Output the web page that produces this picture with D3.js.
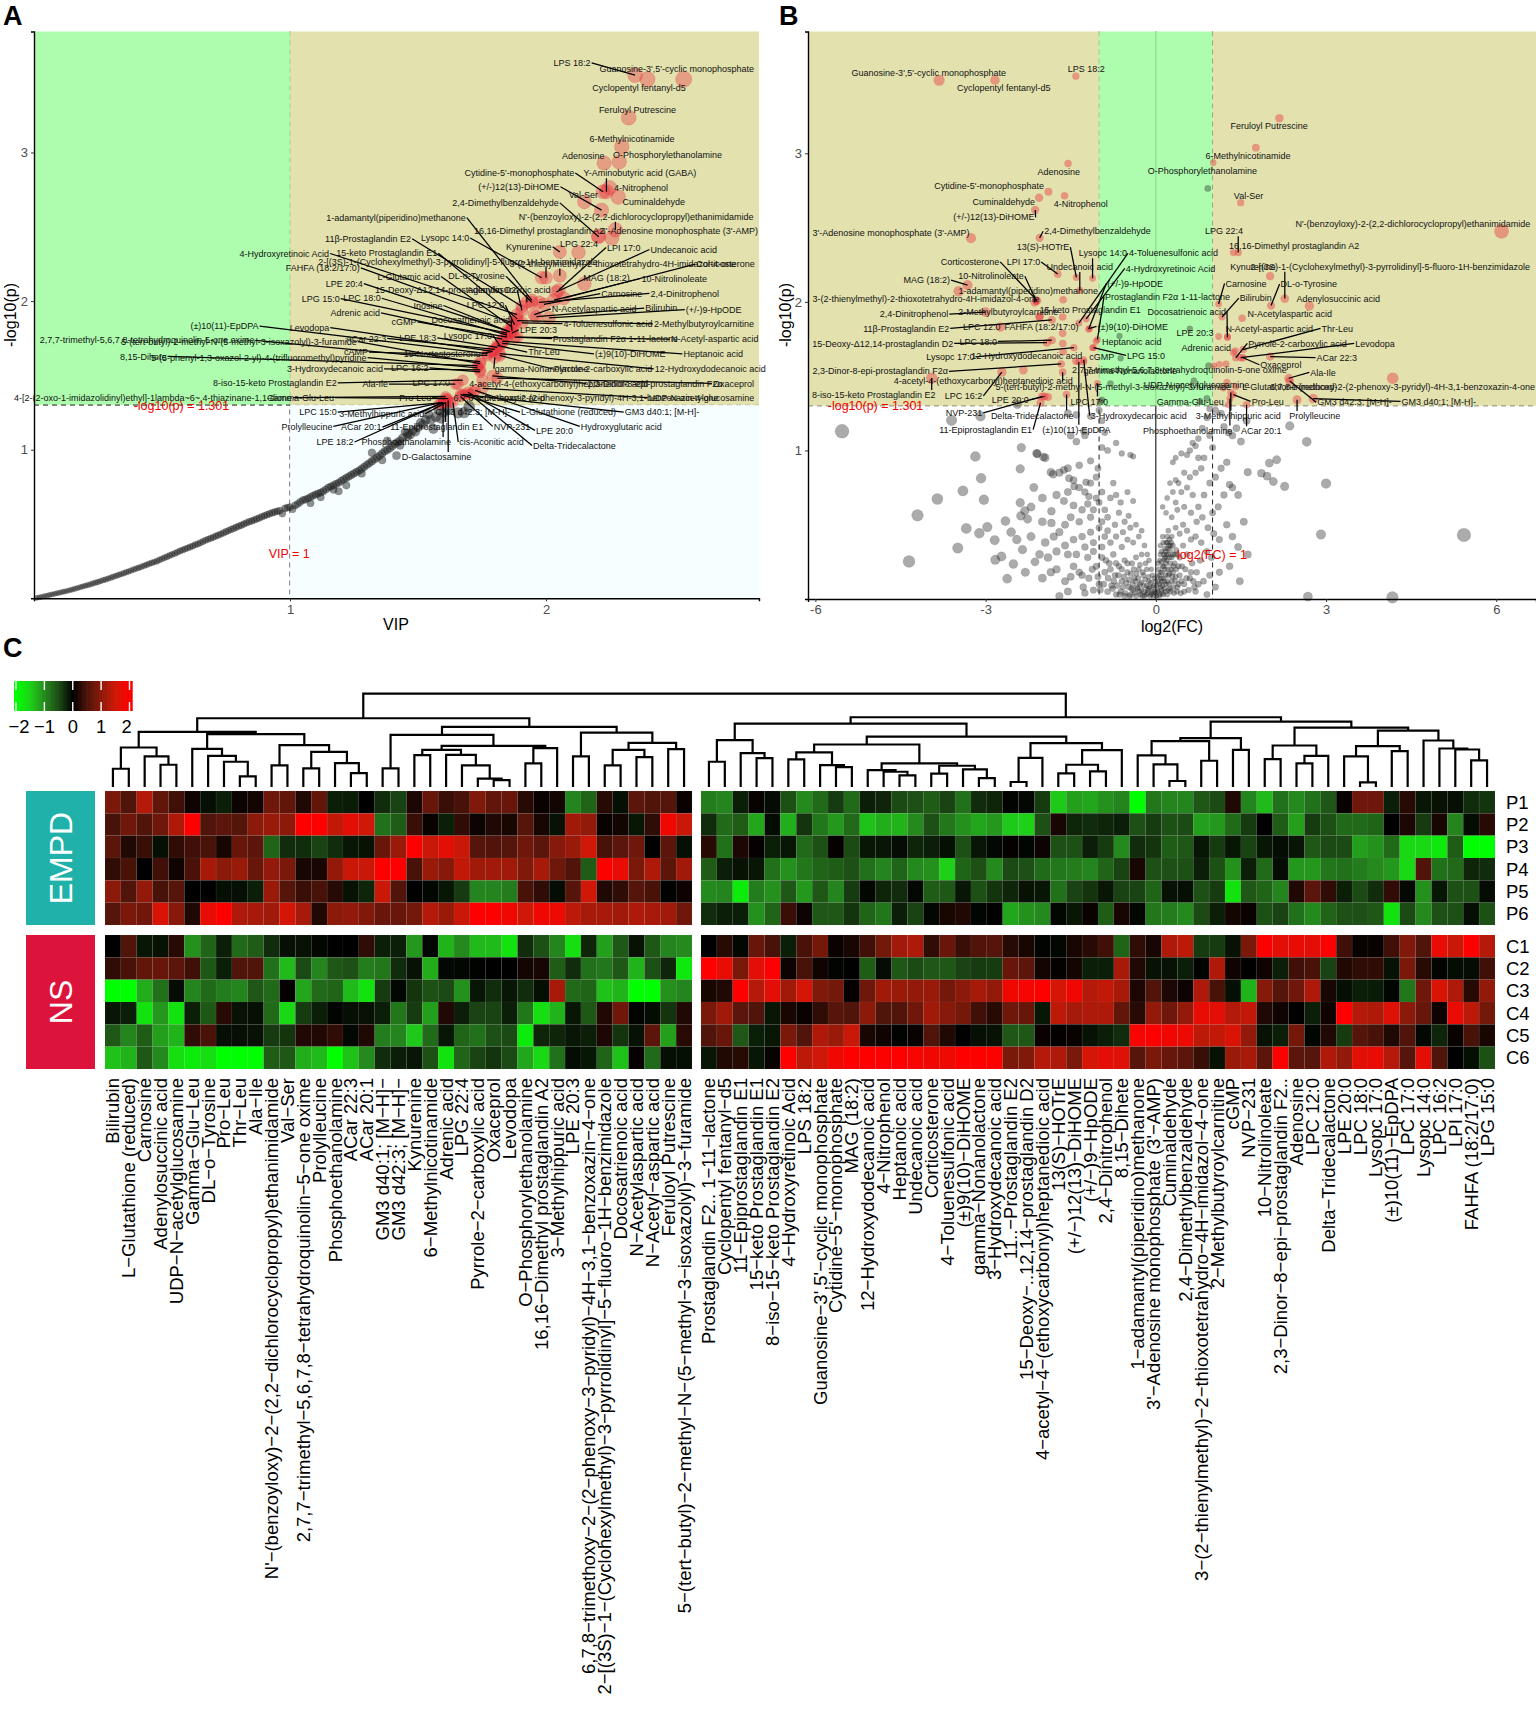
<!DOCTYPE html>
<html><head><meta charset="utf-8">
<script src="https://cdn.jsdelivr.net/npm/d3@7"></script>
<style>
html,body{margin:0;padding:0;background:#fff}
svg{display:block}
text{font-family:"Liberation Sans",Arial,Helvetica,sans-serif}
</style></head><body><svg id="c" width="1536" height="1730"></svg>
<script>
// Panel A labelled metabolites: name, VIP, -log10(p), label VIP, label -log10(p)
const labelledA = [
["LPS 18:2",2.348,3.521,2.102,3.603],["Guanosine-3',5'-cyclic monophosphate",2.538,3.493,2.511,3.562],["Cyclopentyl fentanyl-d5",2.396,3.493,2.363,3.438],
["Feruloyl Putrescine",2.323,3.234,2.357,3.284],["6-Methylnicotinamide",2.296,3.039,2.336,3.094],["Adenosine",2.227,2.928,2.146,2.975],
["O-Phosphorylethanolamine",2.286,2.937,2.475,2.983],["Cytidine-5'-monophosphate",2.223,2.736,1.896,2.862],["Y-Aminobutyric acid (GABA)",2.236,2.736,2.367,2.860],
["4-Nitrophenol",2.248,2.763,2.371,2.763],["(+/-)12(13)-DiHOME",2.217,2.612,1.894,2.769],["Val-Ser",2.150,2.667,2.146,2.716],["Cuminaldehyde",2.282,2.700,2.421,2.667],
["2,4-Dimethylbenzaldehyde",2.206,2.433,1.842,2.661],["N'-(benzoyloxy)-2-(2,2-dichlorocyclopropyl)ethanimidamide",2.271,2.479,2.352,2.567],
["3'-Adenosine monophosphate (3'-AMP)",2.257,2.424,2.521,2.471],["16,16-Dimethyl prostaglandin A2",2.204,2.438,1.973,2.474],["1-adamantyl(piperidino)methanone",1.944,2.006,1.414,2.562],
["11β-Prostaglandin E2",1.906,1.964,1.305,2.419],["Lysopc 14:0",1.983,2.157,1.606,2.424],["Kynurenine",2.054,2.331,1.933,2.366],["LPG 22:4",2.127,2.328,2.129,2.383],
["LPI 17:0",2.050,2.074,2.304,2.361],["Undecanoic acid",2.040,2.061,2.538,2.347],["4-Hydroxyretinoic Acid",1.887,1.909,0.978,2.320],["15-keto Prostaglandin E1",1.887,1.882,1.378,2.322],
["2-[(3S)-1-(Cyclohexylmethyl)-3-pyrrolidinyl]-5-fluoro-1H-benzimidazole",2.000,2.157,1.656,2.267],["3-(2-thienylmethyl)-2-thioxotetrahydro-4H-imidazol-4-one",2.054,2.171,2.300,2.253],
["Corticosterone",2.069,2.019,2.701,2.248],["FAHFA (18:2/17:0)",1.867,1.854,1.128,2.223],["L-Glutamic acid",1.867,1.826,1.464,2.165],["DL-o-Tyrosine",1.944,1.992,1.729,2.168],
["MAG (18:2)",2.150,2.116,2.236,2.154],["10-Nitrolinoleate",2.031,2.006,2.501,2.152],["LPE 20:4",1.848,1.799,1.212,2.118],["15-Deoxy-Δ12,14-prostaglandin D2",1.906,1.937,1.608,2.074],
["Adenylosuccinic acid",1.925,1.992,1.854,2.074],["Carnosine",1.992,1.978,2.296,2.050],["2,4-Dinitrophenol",1.973,1.992,2.542,2.052],["LPG 15:0",1.848,1.785,1.120,2.017],
["LPC 18:0",1.848,1.771,1.281,2.019],["Inosine",1.858,1.793,1.539,1.970],["LPC 12:0",1.877,1.840,1.764,1.972],["N-Acetylaspartic acid",1.954,1.909,2.188,1.948],["Bilirubin",1.963,1.895,2.450,1.953],
["(+/-)9-HpODE",2.012,1.887,2.655,1.942],["Adrenic acid",1.829,1.744,1.255,1.920],["cGMP",1.848,1.758,1.445,1.860],["Docosatrienoic acid",1.867,1.799,1.706,1.876],
["(±)10(11)-EpDPA",1.771,1.647,0.744,1.832],["Levodopa",1.791,1.661,1.076,1.821],["LPE 20:3",1.867,1.785,1.971,1.807],["4-Toluenesulfonic acid",1.906,1.854,2.242,1.848],
["2-Methylbutyroylcarnitine",1.887,1.868,2.617,1.846],["ACar 22:3",1.800,1.675,1.297,1.749],["LPE 18:3",1.810,1.689,1.499,1.752],["Lysopc 17:0",1.819,1.702,1.695,1.769],
["Prostaglandin F2α 1-11-lactone",1.877,1.758,2.271,1.747],["N-Acetyl-aspartic acid",1.887,1.758,2.659,1.744],["2,7,7-trimethyl-5,6,7,8-tetrahydroquinolin-5-one oxime",1.743,1.592,0.442,1.736],
["5-(tert-butyl)-2-methyl-N-(5-methyl-3-isoxazolyl)-3-furamide",1.743,1.579,0.801,1.727],["cAMP",1.771,1.634,1.258,1.656],["19-Nortestosterone",1.791,1.661,1.595,1.647],
["Thr-Leu",1.810,1.702,1.992,1.656],["(±)9(10)-DiHOME",1.829,1.716,2.329,1.645],["Heptanoic acid",1.829,1.730,2.653,1.645],["8,15-Dihete",1.733,1.565,0.427,1.628],
["5-(5-phenyl-1,3-oxazol-2-yl)-4-(trifluoromethyl)pyridine",1.733,1.551,0.878,1.620],["3-Hydroxydecanoic acid",1.743,1.537,1.176,1.543],["LPC 16:2",1.743,1.523,1.468,1.551],
["gamma-Nonanolactone",1.800,1.620,1.983,1.545],["Pyrrole-2-carboxylic acid",1.819,1.634,2.223,1.543],["12-Hydroxydodecanoic acid",1.819,1.647,2.642,1.543],
["8-iso-15-keto Prostaglandin E2",1.675,1.468,0.941,1.449],["Ala-Ile",1.646,1.441,1.333,1.441],["LPC 17:0",1.656,1.441,1.552,1.449],["4-acetyl-4-(ethoxycarbonyl)heptanedioic acid",1.752,1.468,2.050,1.446],
["2,3-Dinor-8-epi-prostaglandin F2α",1.791,1.496,2.425,1.446],["Oxaceprol",1.810,1.482,2.732,1.446],["4-[2-(2-oxo-1-imidazolidinyl)ethyl]-1lambda~6~,4-thiazinane-1,1-dione",1.608,1.358,0.465,1.350],
["Gamma-Glu-Leu",1.608,1.344,1.041,1.350],["Pro-Leu",1.618,1.344,1.489,1.350],["D-Aspartic acid",1.685,1.372,1.877,1.350],["6,7,8-trimethoxy-2-(2-phenoxy-3-pyridyl)-4H-3,1-benzoxazin-4-one",1.714,1.386,2.156,1.350],
["UDP-N-acetylglucosamine",1.752,1.413,2.607,1.350],["LPC 15:0",1.598,1.317,1.109,1.253],["3-Methylhippuric acid",1.608,1.317,1.358,1.242],["GM3 d42:3; [M-H]-",1.627,1.317,1.714,1.253],
["L-Glutathione (reduced)",1.666,1.372,2.088,1.253],["GM3 d40:1; [M-H]-",1.675,1.372,2.453,1.253],["Prolylleucine",1.589,1.317,1.066,1.157],["ACar 20:1",1.598,1.317,1.278,1.152],
["11-Epiprostaglandin E1",1.608,1.317,1.573,1.152],["NVP-231",1.666,1.358,1.867,1.157],["LPE 20:0",1.695,1.386,2.033,1.130],["Hydroxyglutaric acid",1.723,1.399,2.294,1.157],
["LPE 18:2",1.579,1.303,1.176,1.052],["Phosphoethanolamine",1.598,1.317,1.454,1.052],["cis-Aconitic acid",1.637,1.317,1.787,1.052],["Delta-Tridecalactone",1.704,1.372,2.111,1.028],
["D-Galactosamine",1.618,1.331,1.572,0.950]];

// Panel A non-significant points: VIP, -log10(p)
const greyA = [[.01,.003],[.02,.006],[.03,.01],[.04,.014],[.05,.018],[.06,.022],[.07,.026],[.08,.03],[.09,.034],[.10,.038],[.11,.042],[.12,.046],[.13,.05],[.14,.055],[.15,.06],[.16,.064],[.17,.069],[.18,.074],[.19,.079],[.20,.084],[.21,.089],[.22,.094],[.23,.1],[.24,.105],[.25,.11],[.26,.116],[.27,.122],[.28,.127],[.29,.133],[.30,.139],[.31,.145],[.32,.151],[.33,.157],[.34,.163],[.35,.169],[.36,.175],[.37,.181],[.38,.188],[.39,.194],[.40,.2],[.41,.206],[.42,.213],[.43,.219],[.44,.225],[.45,.232],[.46,.238],[.47,.244],[.48,.25],[.49,.258],[.50,.266],
[.51,.273],[.52,.28],[.53,.288],[.54,.295],[.55,.302],[.56,.31],[.57,.318],[.58,.325],[.59,.332],[.60,.338],[.61,.345],[.62,.352],[.63,.36],[.64,.366],[.65,.374],[.66,.382],[.67,.39],[.68,.397],[.69,.404],[.70,.41],[.71,.418],[.72,.425],[.73,.432],[.74,.44],[.75,.448],[.76,.456],[.77,.463],[.78,.47],[.79,.478],[.80,.485],[.81,.492],[.82,.5],[.83,.508],[.84,.515],[.85,.52],[.86,.527],[.87,.534],[.88,.54],[.89,.548],[.90,.556],[.91,.562],[.92,.569],[.93,.575],[.94,.58],[.95,.585],[.96,.59],[.98,.605],[.99,.61],[1.0,.614],[.97,.57],[1.01,.6],[1.02,.625],[1.03,.635],[1.04,.648],[1.05,.66],[1.06,.665],[1.07,.672],[1.08,.682],[1.09,.69],[1.10,.698],[1.11,.705],[1.12,.712],[1.13,.72],[1.14,.732],[1.15,.745],[1.16,.752],[1.17,.76],[1.18,.77],[1.19,.778],[1.20,.79],[1.21,.8],[1.22,.81],[1.23,.82],[1.24,.83],[1.25,.84],[1.26,.85],[1.27,.86],[1.28,.872],[1.29,.885],[1.30,.898],[1.31,.91],[1.32,.922],[1.33,.935],[1.34,.948],[1.35,.96],[1.36,.975],[1.37,.99],[1.38,1.0],[1.39,1.01],[1.40,1.025],[1.41,1.04],[1.42,1.05],[1.43,1.06],[1.44,1.08],[1.46,1.09],[1.36,.93],[1.28,.84],[1.22,.76],[1.19,.72],[1.17,.73],[1.12,.68],[1.08,.64],[1.416,.96],[1.45,1.12],[1.48,1.13],[1.5,1.15],[1.47,1.1],[1.52,1.17],[1.55,1.2],[1.54,1.24],[1.56,1.14],[1.58,1.27],[1.60,1.25],[1.62,1.27],[1.656,1.248],[1.68,1.25],[1.70,1.29],[1.43,1.03],[1.38,1.06],[1.32,.98],[1.46,1.11],[1.49,1.12],[1.51,1.18],[1.53,1.2],[1.57,1.22],[1.59,1.21]];

// Panel B labelled metabolites: name, log2(FC), -log10(p), label log2(FC), label -log10(p)
const labelledB = [
["Guanosine-3',5'-cyclic monophosphate",-3.82,3.492,-4.00,3.544],["Cyclopentyl fentanyl-d5",-2.835,3.492,-2.68,3.442],["LPS 18:2",-1.409,3.519,-1.227,3.569],["Feruloyl Putrescine",2.178,3.236,1.997,3.184],
["6-Methylnicotinamide",1.763,3.038,1.625,2.986],["O-Phosphorylethanolamine",1.011,2.937,.821,2.885],["Adenosine",-1.547,2.931,-1.711,2.876],["Cytidine-5'-monophosphate",-1.893,2.742,-2.939,2.78],
["4-Nitrophenol",-1.608,2.714,-1.322,2.657],["Cuminaldehyde",-2.057,2.701,-2.679,2.673],["(+/-)12(13)-DiHOME",-2.126,2.618,-2.852,2.569],["Val-Ser",1.495,2.668,1.634,2.717],
["3'-Adenosine monophosphate (3'-AMP)",-3.258,2.429,-4.667,2.464],["2,4-Dimethylbenzaldehyde",-2.048,2.431,-1.029,2.475],["N'-(benzoyloxy)-2-(2,2-dichlorocyclopropyl)ethanimidamide",6.093,2.475,4.529,2.525],
["LPG 22:4",1.452,2.332,1.201,2.475],["16,16-Dimethyl prostaglandin A2",1.366,2.332,2.437,2.379],["13(S)-HOTrE",-1.4,2.165,-1.988,2.368],["Lysopc 14:0",-1.115,2.159,-.933,2.327],
["4-Toluenesulfonic acid",-1.357,1.857,.311,2.327],["Undecanoic acid",-1.34,2.077,-1.34,2.234],["4-Hydroxyretinoic Acid",-1.227,1.885,.259,2.225],["Corticosterone",-2.092,2.008,-3.276,2.269],
["LPI 17:0",-1.729,2.187,-2.334,2.269],["MAG (18:2)",-3.319,2.113,-4.036,2.146],["10-Nitrolinoleate",-2.109,2.008,-2.904,2.173],["1-adamantyl(piperidino)methanone",-2.135,1.995,-2.247,2.077],
["3-(2-thienylmethyl)-2-thioxotetrahydro-4H-imidazol-4-one",-3.475,2.071,-4.053,2.022],["(+/-)9-HpODE",-1.184,1.816,-.363,2.124],["Prostaglandin F2α 1-11-lactone",-1.029,1.747,.207,2.036],
["Kynurenine",2.014,2.173,1.711,2.236],["2-[(3S)-1-(Cyclohexylmethyl)-3-pyrrolidinyl]-5-fluoro-1H-benzimidazole",2.273,2.022,4.131,2.236],["Carnosine",1.106,1.986,1.59,2.124],["DL-o-Tyrosine",2.031,1.975,2.697,2.121],
["Bilirubin",1.167,1.898,1.763,2.025],["Adenylosuccinic acid",2.705,1.973,3.215,2.019],["2,4-Dinitrophenol",-2.999,1.931,-4.261,1.918],["2-Methylbutyroylcarnitine",-2.048,1.898,-2.601,1.931],
["15-keto Prostaglandin E1",-1.642,1.898,-1.158,1.945],["11β-Prostaglandin E2",-1.832,1.879,-4.399,1.821],["LPC 12:0",-2.74,1.83,-3.068,1.832],["FAHFA (18:2/17:0)",-1.642,1.788,-2.014,1.83],
["(±)9(10)-DiHOME",-1.167,1.821,-.406,1.835],["Docosatrienoic acid",1.262,1.761,.544,1.934],["N-Acetylaspartic acid",1.521,1.89,2.36,1.918],["LPE 20:3",1.106,1.767,.691,1.794],
["N-Acetyl-aspartic acid",1.262,1.767,1.997,1.821],["Thr-Leu",1.538,1.679,3.198,1.821],["15-Deoxy-Δ12,14-prostaglandin D2",-1.919,1.725,-4.814,1.72],["LPC 18:0",-1.832,1.742,-3.129,1.734],
["Heptanoic acid",-1.054,1.734,-.424,1.734],["Pyrrole-2-carboxylic acid",1.409,1.624,2.498,1.72],["Levodopa",1.495,1.624,3.863,1.72],["Adrenic acid",1.366,1.659,.89,1.69],["LPG 15:0",-1.098,1.692,-.173,1.64],
["cGMP",-1.115,1.692,-.951,1.632],["Lysopc 17:0",-1.443,1.692,-3.621,1.629],["12-Hydroxydodecanoic acid",-1.634,1.665,-2.273,1.637],["ACar 22:3",2.014,1.632,3.189,1.624],["Oxaceprol",1.538,1.624,2.204,1.577],
["2,7,7-trimethyl-5,6,7,8-tetrahydroquinolin-5-one oxime",1.236,1.582,.415,1.541],["gamma-Nonanolactone",-1.27,1.596,-.449,1.533],["2,3-Dinor-8-epi-prostaglandin F2α",-1.668,1.582,-4.857,1.533],
["Ala-Ile",2.342,1.486,2.947,1.525],["4-acetyl-4-(ethoxycarbonyl)heptanedioic acid",-2.334,1.541,-3.042,1.467],["5-(tert-butyl)-2-methyl-N-(5-methyl-3-isoxazolyl)-3-furamide",-1.642,1.527,-.752,1.431],
["UDP-N-acetylglucosamine",1.253,1.459,.717,1.44],["6,7,8-trimethoxy-2-(2-phenoxy-3-pyridyl)-4H-3,1-benzoxazin-4-one",4.175,1.486,4.347,1.431],["L-Glutathione (reduced)",1.409,1.431,2.36,1.431],
["8-iso-15-keto Prostaglandin E2",-3.95,1.486,-4.97,1.374],["LPC 16:2",-2.714,1.527,-3.388,1.368],["LPE 20:0",-1.962,1.363,-2.567,1.341],["Gamma-Glu-Leu",1.279,1.308,.605,1.33],["Pro-Leu",1.366,1.376,1.971,1.33],
["GM3 d42:3; [M-H]-",2.36,1.467,3.5,1.324],["GM3 d40:1; [M-H]-",2.774,1.349,4.987,1.33],["Prolylleucine",2.489,1.341,2.8,1.231],["LPC 17:0",-1.029,1.451,-1.175,1.33],["NVP-231",-2.005,1.363,-3.379,1.253],
["Delta-Tridecalactone",-1.573,1.376,-2.178,1.236],["3-Hydroxydecanoic acid",-1.27,1.61,-.302,1.234],["3-Methylhippuric acid",1.322,1.39,1.452,1.234],["Phosphoethanolamine",1.305,1.349,.562,1.135],
["ACar 20:1",1.599,1.308,1.858,1.129],["11-Epiprostaglandin E1",-2.031,1.321,-2.999,1.14],["(±)10(11)-EpDPA",-1.357,1.596,-1.4,1.14]];

// Panel B other significant points without a label: log2(FC), -log10(p)
const extraRedB = [[-1.634,2.014],[-2.05,1.9],[-1.64,1.72],[-1.41,1.6],[1.02,1.57],[1.12,1.58],[1.4,1.67],[-1.9,1.36],[1.19,1.42]];

// Panel B non-significant points: log2(FC), -log10(p)
const greyB = [[.916,2.764],[.6,1.82],[-.64,1.77],[-.62,1.62],[.93,1.57],[.67,1.47],[-.8,1.45],[.9,1.35],[-.95,1.34],[-.98,1.33],[.78,1.33],
[-5.53,1.129],[-3.6,1.203],[-3.09,1.23],[-2.44,1.31],[-3.18,.959],[-2.37,1.019],[-3.4,.728],[-3.85,.673],[-4.2,.563],[-3.03,.668],[-3.08,.813],[-2.39,.876],[-4.35,.253],[-3.49,.343],[-3.34,.475],[5.43,.431],[2.91,.434],[3.0,.777],[2.66,1.058],[2.36,1.165],[2.27,.758],[2.07,.791],[2.13,.937],[2.0,.915],[1.96,.827],[1.86,.846],[1.62,.854],[2.68,.016],[4.17,.011],[-2.97,.484],[-3.11,.442],[-2.84,.396],[-2.65,.525],[-2.26,.538],[-1.84,.591],[-1.84,.511],[-2.31,.593],[-2.39,.648],[-2.38,.56],[-2.83,.264],[-2.72,.286],[-2.51,.236],[-2.62,.137],[-2.35,.332],[-2.13,.25],[-2.09,.978],[-1.98,.956],[-1.85,.854],[-1.81,.84],[-1.62,.868],[-1.53,.813],[-1.44,.758],[-1.18,.69],[-1.23,.786],[-1.4,1.06],[-1.27,1.13],
[-1.0,1.27],[-.95,1.2],[-1.15,1.23],[-1.4,1.24],[-1.55,1.25],[-1.25,1.1],[-1.5,1.1],[-.9,1.12],[-.85,1.0],[-.95,1.02],[-.7,1.05],[-.6,.98],[-.45,.97],[-.4,.96],[.3,.92],[.35,.95],[.45,.98],[.55,.97],[.6,1.0],[.65,1.05],[.7,1.03],[.75,1.08],[.82,1.15],[.9,1.22],[.95,1.28],[1.05,1.27],[1.15,1.25],[1.2,1.16],[1.28,1.12],[1.35,1.1],[1.42,1.15],[1.5,1.06],[1.6,1.2],[.95,1.1],[1.0,1.02],[.85,.95],[.8,.88],[.75,.95],[.7,.85],[.6,.82],[.5,.85],[.4,.78],[.35,.8],[.25,.78],[.3,.72],[.2,.68],[.35,.65],[.45,.72],[.55,.75],[.65,.7],[.75,.62],[.85,.7],[.95,.78],[1.05,.82],[1.15,.88],[1.25,.92],[1.3,.77],[1.35,.75],[1.45,.7],[1.2,.7],[1.1,.62],[1.0,.58],
[-1.95,.95],[-2.1,.98],[-1.7,.85],[-1.55,.88],[-1.45,.8],[-1.35,.75],[-1.25,.72],[-1.15,.78],[-1.05,.68],[-1.2,.64],[-1.1,.6],[-1.0,.65],[-.95,.72],[-.9,.6],[-.85,.55],[-.8,.68],[-1.3,.6],[-1.35,.52],[-1.5,.55],[-1.6,.5],[-1.7,.45],[-1.8,.42],[-1.95,.38],[-2.05,.3],[-1.9,.28],[-1.75,.32],[-1.6,.36],[-1.45,.4],[-1.3,.42],[-1.15,.45],[-1.0,.48],[-.9,.42],[-.8,.38],[-.7,.42],[-.6,.35],[-.5,.4],[-.4,.38],[-.3,.42],[-.55,.52],[-.45,.48],[-.25,.3],
[.12,.62],[.18,.58],[.28,.55],[.38,.6],[.5,.62],[.62,.58],[.72,.52],[.82,.55],[.92,.48],[1.02,.44],[1.12,.4],[1.25,.5],[1.35,.42],[1.45,.35],[1.55,.52],[1.62,.3],[1.48,.12],[1.3,.22],[1.12,.18],[.98,.28],[.9,.32],[.8,.38],[.7,.42],[.62,.4],[.55,.46],[.48,.5],[.42,.44],[.35,.48],[.28,.42],[.22,.46],[.18,.38],[.12,.42],[.08,.36],
[-1.6,.12],[-1.85,.18],[-1.45,.22],[-1.3,.16],[-1.55,.05],[-1.7,.02],[-1.2,.28],[-1.1,.32],[-1.05,.22],[-.95,.28],[-.9,.18],[-.82,.24],[-.75,.3],[-.72,.16],[-.65,.22],[-.6,.12],[-.55,.26],[-.5,.18],[-.48,.08],[-.42,.24],[-.38,.14],[-.35,.28],[-.3,.2],[-.28,.1],[-.22,.16],[-.2,.05],[-.18,.24],[-.12,.12],[-.1,.02],[-.08,.2],[-.05,.08],[-.03,.14],[0,.04],[-.85,.05],[-.78,.09],[-.7,.03],[-.62,.05],[-.55,.02],[-.45,.03],[-.4,.06],[-.35,.02],[-.32,.07],[-.27,.03],[-.25,.06],[-.2,.02],[-.16,.09],[-.15,.04],[-.13,.07],[-.08,.03],[-.06,.05],[-.04,.02],[-1.0,.1],[-1.1,.06],[-1.25,.04],
[.03,.06],[.05,.12],[.06,.02],[.08,.18],[.09,.08],[.1,.25],[.11,.04],[.13,.14],[.14,.3],[.15,.07],[.16,.2],[.17,.32],[.18,.1],[.19,.26],[.2,.03],[.21,.34],[.22,.16],[.24,.28],[.25,.07],[.26,.36],[.27,.2],[.28,.12],[.3,.3],[.32,.04],[.33,.24],[.35,.15],[.36,.33],[.38,.08],[.4,.22],[.42,.28],[.45,.12],[.48,.36],[.5,.05],[.52,.2],[.55,.3],[.6,.14],[.64,.24],[.68,.08],[.72,.18],[.78,.26],[.84,.12],[.9,.03],[.95,.16],[1.05,.08],[.22,.06],[.12,.22],[.16,.28],[.2,.38],[.24,.4],[.3,.18],[.08,.3],[.1,.12],[.04,.24],[.06,.16],
[-1.35,.18],[-1.28,.08],[-1.18,.14],[-1.12,.2],[-1.02,.15],[-.98,.06],[-.92,.1],[-.88,.26],[-.84,.14],[-.8,.2],[-.76,.07],[-.74,.12],[-.7,.24],[-.68,.09],[-.66,.16],[-.64,.03],[-.6,.2],[-.58,.08],[-.56,.15],[-.54,.04],[-.52,.11],[-.5,.24],[-.47,.13],[-.46,.02],[-.44,.17],[-.43,.07],[-.41,.1],[-.39,.2],[-.37,.04],[-.36,.12],[-.34,.17],[-.33,.08],[-.31,.14],[-.29,.05],[-.28,.23],[-.26,.11],[-.24,.02],[-.23,.18],[-.21,.09],[-.19,.13],[-.17,.03],[-.16,.2],[-.14,.06],[-.13,.15],[-.11,.08],[-.09,.11],[-.07,.04],[-.06,.16],[-.04,.09],[-.02,.05],[-.01,.12],[.01,.02],[.02,.09],[.03,.15],[.04,.05],[.05,.2],[.06,.1],[.07,.03],[.07,.26],[.09,.14],[.1,.06],[.1,.32],[.11,.18],[.12,.09],[.13,.38],[.13,.03],[.14,.22],[.15,.12],[.15,.27],[.16,.34],[.17,.05],[.17,.16],[.18,.24],[.19,.3],[.2,.12],[.2,.42],[.21,.2],[.22,.3],[.23,.1],[.23,.36],[.24,.17],[.25,.33],[.25,.24],[.26,.05],[.27,.38],[.28,.28],[.29,.15],[.3,.36],[.31,.22],[.31,.08],[.33,.3],[.34,.12],[.36,.2],[.37,.05],[.38,.3],[.4,.1],[.42,.16],[.44,.04],[.46,.22],[.5,.1],[.54,.14],[.58,.06],[.62,.18],[.66,.12],[.7,.05],[.75,.1],
[-1.4,.3],[-1.55,.3],[-1.25,.35],[-1.1,.38],[-.95,.35],[-.85,.46],[-.72,.5],[-.65,.58],[-.58,.45],[-.48,.56],[-.35,.5],[-.25,.46],[-.2,.36],[-.15,.3],[-.12,.26],[-.95,.52],[-1.15,.55],[-1.05,.82],[-1.15,.93],[-1.02,.88],[-.75,.78],[-.7,.7],[-.62,.65],[-.5,.72],[-.4,.66],[-1.62,.66],[-1.45,.63],[-1.75,.7],[-1.55,.72],[-1.35,.9],[-2.0,.68],[-2.15,.75],[-2.2,.62],[-2.0,.52],[-2.2,.42],[-2.45,.4],[-2.55,.45],[-2.3,.18],[-2.0,.14],[-1.75,.2],[-1.5,.15]];

// Heatmap rows, standardised abundance in 87 metabolite columns
const rowP1 = [.85,.5,1.3,.65,.4,.1,-.1,-.2,.08,.12,.75,.65,.2,.65,-.2,-.18,0,-.3,-.45, .18,.7,.35,.45,.9,.65,.7,.25,.06,.12,-.95,-.7,.25,-.1,.6,.5,.55,.06, -.9,-.95,-.2,.05,-.08,-.55,-1,-.75,-.4,-.75,-.2,-.25,-.5,-.55,-.65,-.45,-.8,-.3,-.25,-.03,-.06,-.4,-1.45,-1.15,-1.2, -1.05,-.95,-2,-.85,-.95,-.95,-.6,-.5,.2,-.95,-1.35,-.8,-1,-.8,-.6,.05,.75,.75,-.2,.25,-.15,-.12,-.1,-.3,-.35];
const rowP2 = [.45,.75,.5,.75,1.25,2,.5,.6,.55,1,1.1,1,2,2,1.4,1.7,1.5,-.8,-.65, .35,.05,-.2,.3,.08,.2,.15,.55,.15,-.12,1.15,1.05,.05,.12,-.15,.3,1.85,1.45, -.3,-.75,-.65,-1.2,-.08,-1.25,-.35,-.85,-1.1,-.75,-1.4,-1.25,-1.3,-1,-.55,-.85,-1.05,-1.2,-1.1,-1.45,-1.5,-.55,.15,-.25,-.3, -.25,-.2,-.55,-.4,-.55,-.5,-1.15,-1.1,-.75,-.4,0,-.65,-1.15,-.4,-.55,-.75,-.75,-.7,0,.18,-.4,.15,-.95,-.08,.25];
const rowP3 = [.6,.2,.35,-.1,.3,.4,.45,.15,.7,.6,-.7,-.3,-.3,-.45,-.3,-.15,-.12,.7,1.1, 2,1.45,1.7,1.45,.55,.5,.55,.75,.6,.95,1.1,1.5,.45,.6,.75,0,.6,-.1, .25,-.8,.18,.03,-.2,-.15,-.75,-.55,.03,-.5,-.15,-.15,-.08,-.25,-.2,-.1,-.55,-.15,-.06,.03,-.04,.08,-.55,-.55,-.2, -.4,-1,-.3,-.35,-.65,-.6,-.15,-.4,-.15,-.45,-.15,-.08,-.15,-.6,-.5,-.5,-1.15,-1.05,-.75,-1.6,-1.6,-1.75,-.65,-2,-2];
const rowP4 = [.3,.45,0,.4,.1,.45,1.2,1,1.1,.7,1.05,.85,.15,.15,1.05,1.45,1.45,2,2, .45,1.1,.95,1.4,1.15,1.15,1.15,.9,1.2,.75,.5,-.65,2,1.75,.85,1.25,.6,1.15, -.65,-.2,-.12,-.15,-.8,-1.05,-.85,-.7,-.65,-.55,-.8,-.95,-.7,-1,-1.05,-1.5,-.7,-.55,-1,-.5,-.55,-.75,-.85,-.9,-.95, -.7,-.45,.15,-.55,-.55,-.55,-.2,-.55,-1.05,-.2,-.75,-.08,-1.1,-1.1,-.85,-.8,-.9,-1,-1.1,-1.6,.5,-.8,-.75,-.25,-.3];
const rowP5 = [1,.5,1.05,.45,.55,0,0,-.1,-.1,-.2,1.1,.55,.35,.45,.25,-.12,-.25,1.45,.5, 0,-.05,-.15,-.4,-.95,-.95,-.9,.45,.3,-.08,.55,1.5,.2,.3,.55,.45,-.02,.08, -1,-.95,-1.8,-.9,-1.05,-.6,-1.1,-.6,-.95,-.4,-.05,-.25,-.3,-.06,-.65,-.6,-.15,-.55,-.35,-.25,-.12,-.15,-.8,-.45,-.35, -.15,-.45,-.45,-.7,-.12,-.1,-.55,-.4,-1.7,-.6,-.7,-.95,.2,.6,.3,-.2,-.5,-.3,.3,-.07,-1.05,-.15,-.55,-.55,-.08];
const rowP6 = [.55,.85,.75,1.6,.95,.2,1.75,2,1.25,1.2,1.15,1.55,1.2,.2,1,1.05,.9,.7,.7, .8,1.3,1.1,1.45,2,2,1.85,1.5,1.85,1.8,1.35,1.2,1.2,1.15,1.25,1.2,1.15,.75, -.3,-.2,-.2,-1.05,-.7,.35,.08,-.6,-.6,-.35,-.7,-.85,-.2,-.45,-.05,.15,.2,-.04,0,-1.2,-1.05,-1,-.05,-.15,.06, -.65,.15,-.05,-.85,-.9,-1,-.5,-.2,.12,.06,-.55,-.45,-.8,-1,-.7,-.55,-.55,-.6,-1.7,-.5,-1,-.55,-.55,-.1,-.55];
const rowC1 = [0,.5,-.15,-.12,.25,-1.05,-.7,-.2,-.75,-.65,-.3,-.1,-.12,-.05,0,0,.3,-.2,-.2, -1.1,-.05,-1.3,-1,-1.35,-1.35,-1.7,-.3,-.55,-.95,-1.65,-.25,-1.15,-.6,-.12,-.6,-.95,-1, 0,.25,-.05,.7,.45,-.2,.45,.8,.06,.15,.4,.8,1.15,1.25,.3,.7,.35,.5,.55,.25,.15,-.03,-.05,.15,.25, .4,-.7,.3,.15,1.25,1.35,-.4,-.4,-.12,.85,2,1.7,1.75,1.7,1.95,.4,.05,.06,.4,.9,.5,1.75,1.45,2,1.3];
const rowC2 = [.3,.45,.65,.7,.6,.4,-.6,-.2,.5,.5,-.8,-1.35,-.5,-.95,-.6,-.55,-.9,-.85,-.3, -.12,-1.25,-.05,-.05,-.02,0,0,.12,.15,-.65,-.3,-.8,-.85,-.6,-1.3,-.55,-.25,-1.75, 2,1.75,.85,1.7,2,.08,.45,.1,-.03,0,-.65,-.08,-.6,-.5,-.6,-.6,-.45,-.4,-.4,.7,.6,.12,.03,.12,-.2, -.2,1.2,.2,-.12,-.12,-.2,-.03,1.25,.1,0,.1,-.2,.4,.45,-.45,.2,.3,.3,-.12,.85,.25,-.03,-.08,-.08,.4];
const rowC3 = [-2,-2,-1.25,-.8,-.08,-.95,-.75,-.9,-.95,-.6,-.75,.03,-1.2,-.75,-.7,-1.35,-1.7,-.4,-.05, -.35,-.55,-.5,-1.05,-.15,-.3,-.15,-.3,-.1,1.2,-.75,-.7,-1.4,-1.3,-2,-2,-1.05,-.95, .15,.2,2,1.3,1.7,1.15,1.55,.9,.8,.03,.75,1.15,1.1,1.05,1.1,.8,1,1.2,1.05,1.85,1.9,2,1.55,1.85,1.3, 1.4,1.2,.18,.5,.18,.08,1.25,.45,-.1,-1.3,.95,.55,.75,1.25,.15,-.1,-.2,-.18,-.04,-.85,.75,1.6,1.25,.25,1.05];
const rowC4 = [-.15,-.2,-1.7,-1.1,-1.7,-.2,-.6,.25,-.12,-.1,-.75,-1.6,-.4,-.2,-.03,-.1,-.12,-.2,-.85, -.4,-1.15,.2,-.2,-.45,-.45,-.2,-.85,-1.65,-1.3,-.15,-.6,.2,.75,-.03,-.08,-.35,.2, .85,1.15,.6,.5,-.15,.15,.05,.3,.55,.5,1,.5,.5,.75,1.15,.95,.8,.4,.25,.75,.7,-.15,1.35,1.2,1.25, 1.25,.65,.25,1.05,.75,1.05,1.75,1.7,1.3,1.4,.2,.1,0,-.2,.1,2,1.3,1.25,1.65,1,.7,.08,1.75,1.35,.8];
const rowC5 = [-.6,-.95,-.65,-1.15,-1.3,.3,.45,-.1,-.1,-.12,-.4,-.35,.2,.2,.3,-.06,.2,-.9,-.95, -1.45,-.75,-.15,-.7,-.8,-.55,-.5,-1.8,-.25,-.25,-.15,-.2,.18,-.35,-.12,.6,-1.15,.25, .5,.7,-.6,-.2,-.15,.85,.5,1.25,1.1,1.45,.15,.1,-.02,.05,.5,.2,0,-.1,-.12,-.6,-.6,.06,.02,.05,-.12, -.2,-.3,1.9,2,1.85,1.8,1.35,1.4,1.6,1.05,-.12,-.2,.8,-.04,.2,-.4,.55,.45,.2,.5,-.06,-.25,.05,.45,.15];
const rowC6 = [-1.4,-1.3,-.6,-1,-1.65,-1.8,-1.65,-2,-2,-2,-.65,-.6,-1.25,-1.35,-2,-1.4,-1,-.3,-.2, -.15,-.55,-1.7,-.7,-.45,-.35,-.5,-1.2,-1.6,-.8,-.08,-.15,-.7,-1.4,.03,-.75,-.1,-.1, -.15,.2,.25,-.15,.05,2,1.35,1.5,1.85,2,2,2,2,1.9,1.85,1.8,2,2,2,.85,.9,1.3,1.25,.85,1.55, 1.7,1.65,.55,.85,.7,.6,.35,-.12,1.1,1.2,.6,2,.6,.55,1.25,1.05,1.7,1.75,1.3,.55,1.7,.5,0,-.1,-.55];
const empdNames = ["P1","P2","P3","P4","P5","P6"];
const nsNames = ["C1","C2","C3","C4","C5","C6"];

const leftColumns = ["Bilirubin","L-Glutathione (reduced)","Carnosine","Adenylosuccinic acid","UDP-N-acetylglucosamine","Gamma-Glu-Leu","DL-o-Tyrosine","Pro-Leu","Thr-Leu","Ala-Ile","N'-(benzoyloxy)-2-(2,2-dichlorocyclopropyl)ethanimidamide","Val-Ser","2,7,7-trimethyl-5,6,7,8-tetrahydroquinolin-5-one oxime","Prolylleucine","Phosphoethanolamine","ACar 22:3","ACar 20:1","GM3 d40:1; [M-H]-","GM3 d42:3; [M-H]-","Kynurenine","6-Methylnicotinamide","Adrenic acid","LPG 22:4","Pyrrole-2-carboxylic acid","Oxaceprol","Levodopa","O-Phosphorylethanolamine","16,16-Dimethyl prostaglandin A2","3-Methylhippuric acid","LPE 20:3","6,7,8-trimethoxy-2-(2-phenoxy-3-pyridyl)-4H-3,1-benzoxazin-4-one","2-[(3S)-1-(Cyclohexylmethyl)-3-pyrrolidinyl]-5-fluoro-1H-benzimidazole","Docosatrienoic acid","N-Acetylaspartic acid","N-Acetyl-aspartic acid","Feruloyl Putrescine","5-(tert-butyl)-2-methyl-N-(5-methyl-3-isoxazolyl)-3-furamide"];
const rightColumns = ["Prostaglandin F2.. 1-11-lactone","Cyclopentyl fentanyl-d5","11-Epiprostaglandin E1","15-keto Prostaglandin E1","8-iso-15-keto Prostaglandin E2","4-Hydroxyretinoic Acid","LPS 18:2","Guanosine-3',5'-cyclic monophosphate","Cytidine-5'-monophosphate","MAG (18:2)","12-Hydroxydodecanoic acid","4-Nitrophenol","Heptanoic acid","Undecanoic acid","Corticosterone","4-Toluenesulfonic acid","(±)9(10)-DiHOME","gamma-Nonanolactone","3-Hydroxydecanoic acid","11..-Prostaglandin E2","15-Deoxy-..12,14-prostaglandin D2","4-acetyl-4-(ethoxycarbonyl)heptanedioic acid","13(S)-HOTrE","(+/-)12(13)-DiHOME","(+/-)9-HpODE","2,4-Dinitrophenol","8,15-Dihete","1-adamantyl(piperidino)methanone","3'-Adenosine monophosphate (3'-AMP)","Cuminaldehyde","2,4-Dimethylbenzaldehyde","3-(2-thienylmethyl)-2-thioxotetrahydro-4H-imidazol-4-one","2-Methylbutyroylcarnitine","cGMP","NVP-231","10-Nitrolinoleate","2,3-Dinor-8-epi-prostaglandin F2..","Adenosine","LPC 12:0","Delta-Tridecalactone","LPE 20:0","LPC 18:0","Lysopc 17:0","(±)10(11)-EpDPA","LPC 17:0","Lysopc 14:0","LPC 16:2","LPI 17:0","FAHFA (18:2/17:0)","LPG 15:0"];

// Column dendrogram: [height, left child, right child]; integers are 1-based column numbers
const columnTree = [281,
 [207,
  [166,
   [119,[55,1,2],[92,3,[67,4,5]]],
   [159,
    [115,6,[94,7,[76,8,[32,9,10]]]],
    [126,[65,11,12],[106,[56,13,14],[72,15,[42,16,17]]]]]],
  [181,
   [157,[56,18,19],[124,[112,[96,20,21],[97,22,[65,23,[25,24,[21,25,26]]]]],[117,[71,27,28],29]]],
   [164,[92,30,31],[133,[112,[65,32,33],[90,34,35]],[114,36,37]]]]],
 [210,
  [191,
   [141,[76,38,39],[102,40,[87,41,42]]],
   [152,
    [128,
     [104,[83,43,44],[66,45,[60,46,47]]],
     [71,[51,48,[46,49,[35,50,51]]],[64,[40,52,53],[53,54,[27,55,56]]]]],
    [132,
     [88,[15,57,58],59],
     [111,[67,[41,60,61],[47,62,63]],64]]]],
  [197,
   [147,[138,[95,65,[68,66,[18,67,68]]],[79,69,70]],[112,71,72]],
   [179,
    [125,[84,73,74],[94,[71,75,76],77]],
    [170,
     [123,[92,78,[14,79,80]],[108,81,82]],
     [140,83,[116,84,[113,85,[80,86,87]]]]]]]]];

const legendTicks = [-2,-1,0,1,2];
const yTicks = [1,2,3];
const vipTicks = [1,2];
const fcTicks = [-6,-3,0,3,6];

const svg = d3.select("#c");

function drawLabels(g, rows, x, y){
  const seg = g.append("g"), txt = g.append("g");
  rows.forEach(r=>{
    const px=x(r[1]), py=y(r[2]), lx=x(r[3]), ly=y(r[4]);
    const t = txt.append("text").attr("x",lx).attr("y",ly).attr("dy","0.35em").attr("text-anchor","middle")
      .attr("font-size",9).attr("fill","#111").text(r[0]);
    const w = t.node().getComputedTextLength()/2;
    let ex, ey = ly;
    if(px>lx+w) ex=lx+w+1; else if(px<lx-w) ex=lx-w-1; else { ex=px; ey = py>ly?ly+5:ly-5; }
    if(Math.hypot(px-ex,py-ey)>7) seg.append("line").attr("x1",ex).attr("y1",ey).attr("x2",px).attr("y2",py).attr("stroke","#000").attr("stroke-width",1.25);
  });
}
function axes(g,x,y,xt,title,tx,ty,tlx,tly,bottom,left){
  const ax=g.append("g").attr("transform",`translate(0,${bottom})`).call(d3.axisBottom(x).tickValues(xt).tickSizeOuter(0).tickSize(3).tickFormat(d=>String(d)));
  const ay=g.append("g").attr("transform",`translate(${left},0)`).call(d3.axisLeft(y).tickValues(yTicks).tickSizeOuter(0).tickSize(3).tickFormat(d=>String(d)));
  [ax,ay].forEach(a=>{
    a.select(".domain").attr("stroke","#000").attr("stroke-width",1.4);
    a.selectAll(".tick line").attr("stroke","#333");
    a.selectAll(".tick text").attr("font-size",13).attr("fill","#4D4D4D").attr("font-family","Liberation Sans");
  });
  g.append("text").attr("x",tx).attr("y",ty).attr("text-anchor","middle").attr("dy","0.35em").attr("font-size",16).text(title);
  g.append("text").attr("transform",`translate(${tlx},${tly}) rotate(-90)`).attr("text-anchor","middle").attr("dy","0.35em").attr("font-size",16).text("-log10(p)");
}
function letter(t,xp,yp){svg.append("text").attr("x",xp).attr("y",yp).attr("font-size",27).attr("font-weight","bold").text(t);}
function dashed(g,x1,y1,x2,y2,col){g.append("line").attr("x1",x1).attr("y1",y1).attr("x2",x2).attr("y2",y2).attr("stroke",col||"#333").attr("stroke-width",1).attr("stroke-dasharray","5 4");}
function red(g,t,xp,yp){g.append("text").attr("x",xp).attr("y",yp).attr("dy","0.35em").attr("text-anchor","middle").attr("font-size",12.5).attr("fill","#F00000").text(t);}

const RC=["#A0FDA0","#DEDDA1","#F4FEFF"];
/* ---------- Panel A ---------- */
{
  const g=svg.append("g");
  const x=d3.scaleLinear().domain([0,2.832]).range([34,759]);
  const y=d3.scaleLinear().domain([0,3.814]).range([598.3,31.5]);
  const r=d3.scaleLinear().domain([0,1.4,1.7,2.5]).range([2.6,4,5.6,8]);
  dashed(g,x(1),y(3.814),x(1),y(0),"#222");
  dashed(g,x(0),y(1.301),x(2.832),y(1.301),"#333");
  const rect=(a,b,c,d,col)=>g.append("rect").attr("x",x(a)).attr("y",y(d)).attr("width",x(b)-x(a)).attr("height",y(c)-y(d)).attr("fill",col).attr("opacity",.85);
  rect(0,1,1.301,3.814,RC[0]); rect(1,2.832,1.301,3.814,RC[1]); rect(1,2.832,0,1.301,RC[2]);
  dashed(g,x(0),y(1.301),x(1),y(1.301),"#555");
  g.append("g").selectAll("circle").data(greyA).join("circle").attr("cx",d=>x(d[0])).attr("cy",d=>y(d[1])).attr("r",d=>r(d[0])).attr("fill","#222").attr("fill-opacity",.5).attr("stroke","#222").attr("stroke-opacity",.3).attr("stroke-width",.5);
  g.append("g").selectAll("circle").data(labelledA).join("circle").attr("cx",d=>x(d[1])).attr("cy",d=>y(d[2])).attr("r",d=>r(d[1])).attr("fill","#E8303C").attr("fill-opacity",.38).attr("stroke","#E8303C").attr("stroke-opacity",.2);
  axes(g,x,y,vipTicks,"VIP",396,624,10,315,598.3,34);
  drawLabels(g,labelledA,x,y);
  red(g,"-log10(p) = 1.301",x(.576),y(1.297));
  red(g,"VIP = 1",x(.997),y(.298));
  letter("A",3,25);
}
/* ---------- Panel B ---------- */
{
  const g=svg.append("g");
  const x=d3.scaleLinear().domain([-6.13,6.70]).range([808,1536]);
  const y=d3.scaleLinear().domain([0,3.82]).range([599,31.5]);
  const r=d=>2.5+.8*Math.abs(d);
  dashed(g,x(-1),y(3.82),x(-1),y(0),"#222");
  dashed(g,x(1),y(3.82),x(1),y(0),"#222");
  g.append("line").attr("x1",x(0)).attr("x2",x(0)).attr("y1",y(3.82)).attr("y2",y(0)).attr("stroke","#111").attr("stroke-width",1.1);
  dashed(g,x(-6.13),y(1.301),x(6.7),y(1.301),"#333");
  const rect=(a,b,c,d,col)=>g.append("rect").attr("x",x(a)).attr("y",y(d)).attr("width",x(b)-x(a)).attr("height",y(c)-y(d)).attr("fill",col).attr("opacity",.85);
  rect(-6.13,-1,1.301,3.82,RC[1]); rect(-1,1,1.301,3.82,RC[0]); rect(1,6.7,1.301,3.82,RC[1]);
  g.append("g").selectAll("circle").data(greyB).join("circle").attr("cx",d=>x(d[0])).attr("cy",d=>y(d[1])).attr("r",d=>r(d[0])).attr("fill","#222").attr("fill-opacity",.38).attr("stroke","#222").attr("stroke-opacity",.2).attr("stroke-width",.5);
  g.append("g").selectAll("circle").data(extraRedB).join("circle").attr("cx",d=>x(d[0])).attr("cy",d=>y(d[1])).attr("r",d=>r(d[0])).attr("fill","#E8303C").attr("fill-opacity",.42);
  g.append("g").selectAll("circle").data(labelledB).join("circle").attr("cx",d=>x(d[1])).attr("cy",d=>y(d[2])).attr("r",d=>r(d[1])).attr("fill","#E8303C").attr("fill-opacity",.42);
  axes(g,x,y,fcTicks,"log2(FC)",1172,626,785,315,599,808);
  drawLabels(g,labelledB,x,y);
  red(g,"-log10(p) = 1.301",x(-4.94),y(1.3));
  red(g,"log2(FC) = 1",x(.99),y(.297));
  letter("B",779,25);
}
/* ---------- Panel C ---------- */
{
  const g=svg.append("g");
  letter("C",3,657);
  const rows=[[rowP1,rowP2,rowP3,rowP4,rowP5,rowP6],[rowC1,rowC2,rowC3,rowC4,rowC5,rowC6]];
  const names=[empdNames,nsNames];
  const color=d3.scaleLinear().domain([-2,-1.5,-1,-.5,0,.5,1,1.5,2])
    .range(["#00FF00","#1ED018","#258A1E","#1C4A14","#000000","#50140A","#8C1A0A","#D01808","#FF0000"]).clamp(true);
  const colL=d3.scaleBand().domain(d3.range(1,38)).range([105,692]);
  const colR=d3.scaleBand().domain(d3.range(38,88)).range([701,1495]);
  const band=i=>i<=37?colL:colR;
  const colX=i=>band(i)(i)+band(i).bandwidth()/2;
  const tops=[791,935];
  const rowY=d3.scaleBand().domain(d3.range(6)).range([0,134]);
  const blockCol=["#20B2AA","#DC143C"], blockName=["EMPD","NS"];
  rows.forEach((set,b)=>{
    g.append("rect").attr("x",26).attr("y",tops[b]).attr("width",69).attr("height",134).attr("fill",blockCol[b]);
    g.append("text").attr("transform",`translate(60.5,${tops[b]+67}) rotate(-90)`).attr("text-anchor","middle").attr("dy","0.36em").attr("font-size",32).attr("fill","#fff").text(blockName[b]);
    set.forEach((vals,ri)=>{
      g.append("g").selectAll("rect").data(vals).join("rect")
        .attr("x",(d,i)=>band(i+1)(i+1)).attr("y",tops[b]+rowY(ri))
        .attr("width",(d,i)=>band(i+1).bandwidth()).attr("height",rowY.bandwidth())
        .attr("fill",d=>color(d)).attr("stroke","#888").attr("stroke-opacity",.12).attr("stroke-width",.6);
      g.append("text").attr("x",1506).attr("y",tops[b]+rowY(ri)+rowY.bandwidth()/2).attr("dy","0.35em").attr("font-size",18.5).text(names[b][ri]);
    });
  });
  const all=leftColumns.concat(rightColumns);
  g.append("g").selectAll("text").data(all).join("text")
    .attr("transform",(d,i)=>`translate(${colX(i+1)},1078) rotate(-90)`)
    .attr("text-anchor","end").attr("dy","0.35em").attr("font-size",18.5)
    .text(d=>d.replace(/-/g,"\u2212"));
  // dendrogram
  const h=d3.scaleLinear().domain([0,281]).range([787,693.7]);
  const dg=g.append("g").attr("fill","none").attr("stroke","#000").attr("stroke-width",2.2);
  function walk(n){
    if(typeof n==="number") return {x:colX(n),y:h(0)};
    const a=walk(n[1]), b=walk(n[2]), yy=h(n[0]);
    dg.append("path").attr("d",d3.line()([[a.x,a.y],[a.x,yy],[b.x,yy],[b.x,b.y]]));
    return {x:(a.x+b.x)/2,y:yy};
  }
  walk(columnTree);
  // legend
  const lx=d3.scaleLinear().domain([-2,2]).range([16,129.5]);
  const lvals=d3.range(-2.07,2.09,.02);
  g.append("g").selectAll("rect").data(lvals).join("rect").attr("x",d=>lx(d)).attr("y",681).attr("width",1.2).attr("height",30).attr("fill",d=>color(d));
  legendTicks.forEach(t=>{
    g.append("line").attr("x1",lx(t)).attr("x2",lx(t)).attr("y1",681).attr("y2",690).attr("stroke","#fff").attr("stroke-width",1.4);
    g.append("line").attr("x1",lx(t)).attr("x2",lx(t)).attr("y1",702).attr("y2",711).attr("stroke","#fff").attr("stroke-width",1.4);
    const shift=t===-2?3:t===2?-3:0;
    g.append("text").attr("x",lx(t)+shift).attr("y",727).attr("dy","0.35em").attr("text-anchor","middle").attr("font-size",18.4).text(String(t).replace("-","\u2212"));
  });
}
</script></body></html>
